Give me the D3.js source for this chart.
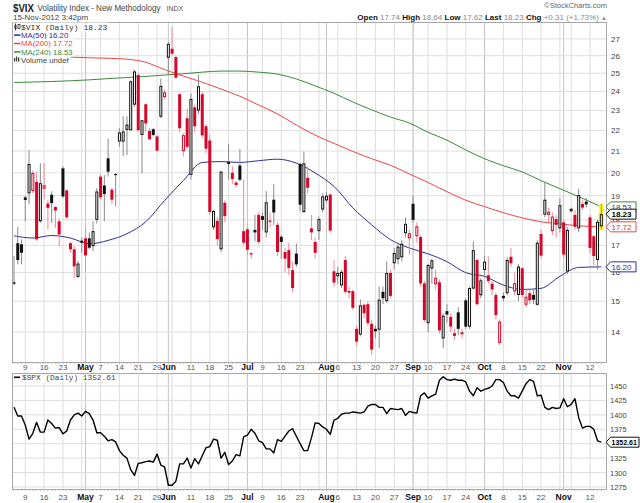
<!DOCTYPE html>
<html><head><meta charset="utf-8">
<script src="https://cdn.jsdelivr.net/npm/d3@7"></script>
<style>body{margin:0;background:#fff}svg{display:block}</style>
</head><body><svg id="c" width="640" height="503"></svg>
<script>
// ---------- DATA ----------
const startDate = "2012-04-03", endDate = "2012-11-15";
const holidays = ["2012-04-06","2012-05-28","2012-07-04","2012-09-03","2012-10-29","2012-10-30"];

const vixOpen = [15.62,17.08,17.04,18.93,19.1,19.2,19.6,17.94,19.3,18.67,
19.04,18.53,17.94,20.2,19.23,17.08,16.85,15.84,17.18,17.27,
17.27,16.97,18.0,19.83,19.44,20.66,19.26,19.95,21.45,21.45,
22.02,22.0,23.3,24.9,21.77,23.32,21.97,22.05,21.7,22.68,
23.7,25.88,26.41,25.92,23.85,21.0,22.6,19.91,23.16,22.99,
23.85,22.2,21.5,17.7,17.96,16.85,18.7,20.5,20.0,19.57,
20.33,17.55,17.62,16.7,17.6,18.2,18.15,17.5,17.97,18.83,
17.8,17.33,16.75,16.82,16.08,16.69,20.4,18.32,19.78,17.66,
17.13,17.55,18.42,18.8,19.05,16.04,15.86,15.54,16.45,15.35,
15.34,14.1,13.92,14.88,14.9,14.26,14.1,14.07,15.32,15.0,
15.98,16.33,16.48,16.55,17.47,17.27,18.66,17.35,17.32,15.61,
14.28,16.14,15.58,15.65,13.8,14.67,14.48,13.96,14.63,13.93,
15.03,14.17,15.43,16.45,15.2,16.09,15.9,15.6,15.21,13.66,
15.18,15.27,16.57,15.33,15.21,16.15,14.88,15.27,15.21,14.88,
17.44,18.21,18.2,17.55,18.03,17.66,17.9,16.03,18.35,18.2,
17.66,18.65,18.75,18.1,17.35,16.45,17.74];
const vixHigh = [16.6,17.72,17.23,19.0,21.05,20.1,20.04,20.43,20.45,18.83,
19.19,18.55,18.06,20.3,19.26,17.13,16.97,16.41,17.3,17.68,
17.49,17.94,19.33,19.93,19.9,21.6,19.33,19.97,22.1,22.7,
22.7,24.6,25.2,25.0,22.5,23.37,22.1,22.1,21.77,24.7,
24.1,26.8,27.72,26.0,23.9,21.85,23.1,23.9,23.3,24.9,
24.0,22.3,21.77,18.4,18.1,20.1,18.8,21.35,20.3,19.62,
21.1,19.7,17.7,16.75,18.2,18.3,18.3,19.2,18.3,19.5,
17.9,17.4,16.9,17.1,16.4,17.07,20.45,20.97,20.3,18.2,
17.3,18.13,19.1,19.15,19.1,16.45,16.2,16.1,16.6,15.5,
15.4,14.2,15.06,14.92,15.0,14.4,14.2,15.5,15.5,16.4,
16.1,16.9,17.1,17.2,18.1,17.6,19.0,17.9,17.4,15.7,
16.3,16.5,16.1,15.75,14.6,14.9,14.6,14.1,14.8,14.1,
15.1,15.5,17.15,16.5,15.8,16.6,16.58,15.7,15.3,14.4,
15.3,16.55,16.9,16.0,16.3,16.2,15.4,15.4,15.4,17.2,
17.6,19.6,18.5,18.3,18.2,18.9,18.0,17.7,18.5,18.4,
19.3,18.8,18.9,18.2,17.4,18.0,18.64];
const vixLow = [15.55,16.29,16.29,17.94,18.63,19.1,17.17,17.88,18.85,17.62,
17.88,17.68,16.97,18.9,18.06,16.72,15.8,15.8,16.72,16.04,
16.85,16.78,17.85,18.83,17.94,19.83,18.63,18.55,21.2,20.77,
20.81,22.0,23.2,21.94,19.97,21.94,21.53,21.7,20.97,22.6,
23.6,24.9,26.0,24.7,21.9,20.74,21.1,19.7,21.9,22.8,
21.6,20.9,18.2,17.6,17.0,16.75,17.9,19.7,19.5,19.35,
19.62,17.0,16.65,16.5,17.15,17.05,17.6,17.3,17.7,17.8,
16.6,16.5,16.0,15.9,15.3,16.2,18.35,18.28,19.1,17.2,
16.5,17.2,18.3,18.7,17.5,15.5,15.6,15.45,15.25,15.1,
14.7,13.55,13.86,14.45,14.2,13.3,13.8,13.5,14.9,14.95,
15.1,16.1,16.3,16.4,17.3,16.65,17.9,17.1,15.5,14.3,
14.0,15.6,15.4,13.95,13.5,14.3,14.0,13.75,13.9,13.8,
14.1,14.1,15.4,14.85,15.1,15.9,15.6,15.2,14.4,13.6,
15.0,15.2,16.2,15.2,15.0,15.1,14.8,14.9,14.9,14.85,
16.5,18.1,17.9,17.4,17.3,17.5,16.5,15.95,18.3,17.6,
17.5,18.4,18.5,16.7,16.25,16.1,17.62];
const vixClose = [15.65,16.45,16.72,18.82,20.4,20.0,17.23,19.54,19.45,18.49,
18.69,18.38,17.42,18.97,18.1,16.85,16.22,16.32,17.1,16.62,
16.91,17.55,19.18,18.93,19.07,20.05,18.83,19.9,21.89,21.94,
22.28,24.55,25.1,22.0,22.5,22.34,21.56,21.77,21.02,24.3,
23.95,26.7,26.12,24.75,22.1,21.76,21.2,23.6,22.2,24.28,
21.75,21.11,18.32,18.36,17.24,20.05,18.15,20.4,19.72,19.46,
19.69,17.1,16.83,16.66,17.5,17.13,18.0,18.72,17.93,18.3,
16.75,17.13,16.5,16.16,15.45,16.29,18.62,20.43,19.34,17.5,
16.72,18.03,18.97,19.0,17.57,15.64,15.98,16.02,15.32,15.29,
14.78,13.7,14.86,14.6,14.28,13.46,14.02,15.05,15.1,15.98,
15.18,16.71,16.95,17.06,17.84,17.47,18.0,17.74,15.61,14.38,
16.27,16.44,15.81,14.05,14.52,14.56,14.17,13.88,14.1,13.99,
14.17,15.45,16.82,14.9,15.72,16.39,15.69,15.4,14.54,14.33,
15.1,16.45,16.33,15.62,16.21,15.21,15.15,15.03,15.05,17.1,
16.61,18.83,18.33,18.13,17.8,18.6,16.65,17.6,18.45,17.72,
19.03,18.5,18.63,16.9,16.6,17.92,18.23];

const spxClose = [1413,1398,1398,1382,1358,1368,1387,1370,1370,1391,
1385,1377,1378,1367,1372,1391,1400,1403,1398,1406,
1402,1391,1369,1369,1363,1355,1357,1353,1338,1330,
1325,1305,1295,1316,1317,1319,1320,1318,1332,1313,
1310,1278,1278,1285,1315,1315,1325,1308,1324,1315,
1329,1343,1345,1358,1356,1325,1335,1314,1320,1331,
1329,1362,1365,1375,1368,1355,1352,1341,1341,1334,
1357,1354,1363,1372,1376,1363,1350,1338,1338,1360,
1386,1385,1379,1375,1366,1391,1394,1401,1403,1403,
1405,1404,1403,1405,1415,1418,1418,1413,1413,1402,
1411,1410,1409,1411,1399,1406,1404,1403,1433,1438,
1429,1433,1436,1460,1466,1461,1460,1462,1460,1460,
1457,1441,1433,1447,1441,1444,1446,1450,1461,1461,
1456,1441,1433,1433,1429,1441,1454,1461,1458,1433,
1434,1413,1409,1413,1411,1412,1428,1414,1418,1428,
1395,1377,1380,1380,1375,1355,1352.61];

const maIdx = [0,5,10,15,20,25,30,35,40,45,50,55,60,65,70,75,80,85,90,95,100,105,110,115,120,125,130,135,140,145,150,156];
const ma50  = [17.37,17.28,17.38,17.28,17.06,17.19,17.45,17.92,18.8,19.66,20.47,20.51,20.47,20.55,20.62,20.44,19.99,19.4,18.49,17.8,17.22,16.9,16.68,16.39,15.99,15.86,15.55,15.4,15.44,15.86,16.18,16.2];
const ma200 = [25.94,25.94,25.93,25.92,25.88,25.85,25.8,25.62,25.2,24.84,24.5,24.13,23.74,23.28,22.82,22.26,21.76,21.36,20.98,20.64,20.34,19.95,19.57,19.17,18.81,18.54,18.29,18.08,17.92,17.84,17.76,17.72];
const ma240 = [24.49,24.51,24.54,24.58,24.63,24.7,24.76,24.82,24.9,24.97,25.06,25.12,25.12,25.06,24.95,24.68,24.3,23.9,23.44,23.03,22.66,22.36,21.9,21.52,21.05,20.64,20.32,20.04,19.65,19.3,18.96,18.53];

const vixTicks = [14,15,16,17,18,19,20,21,22,23,24,25,26,27];
const spxTicks = [1275,1300,1325,1350,1375,1400,1425,1450];
const monthNames = ["Jan","Feb","Mar","Apr","May","Jun","Jul","Aug","Sep","Oct","Nov","Dec"];

// ---------- DATES ----------
const dates = [];
{
  const d = new Date(startDate + "T00:00:00Z"), end = new Date(endDate + "T00:00:00Z");
  while (d <= end) {
    const wd = d.getUTCDay(), s = d.toISOString().slice(0,10);
    if (wd !== 0 && wd !== 6 && !holidays.includes(s)) dates.push(new Date(d));
    d.setUTCDate(d.getUTCDate() + 1);
  }
}
const weekStarts = [], monthStarts = [];
for (let i = 1; i < dates.length; i++) {
  if (dates[i].getUTCMonth() !== dates[i-1].getUTCMonth()) monthStarts.push(i);
  if (dates[i].getUTCDay() <= dates[i-1].getUTCDay()) weekStarts.push(i);
}
const tickLabels = [];
monthStarts.forEach(i => tickLabels.push({i, t: monthNames[dates[i].getUTCMonth()], bold: true}));
weekStarts.forEach(i => {
  if (monthStarts.some(m => Math.abs(m - i) <= 2)) return;
  tickLabels.push({i, t: String(dates[i].getUTCDate()), bold: false});
});

// ---------- LAYOUT ----------
const svg = d3.select("#c");
const L = 12, R = 607, mT = 22, mB = 362, lT = 373, lB = 489;
const x = d3.scaleLinear().domain([0, vixClose.length - 1]).range([14, 601.3]);
const yV = d3.scaleLog().domain([13.09, 28.04]).range([mB, mT]);
const yS = d3.scaleLinear().domain([1271.5, 1472.5]).range([lB, lT]);
const FONT = "'Liberation Sans', Arial, sans-serif";
const MONO = "'Liberation Mono', 'DejaVu Sans Mono', monospace";
const RED = "#d4062a", REDW = "#ee8a96", BLK = "#111", BLKW = "#8a8a8a";
const last = vixClose.length - 1;

svg.append("rect").attr("width",640).attr("height",503).attr("fill","#fff");

// grids
function grids(top, bot) {
  weekStarts.forEach(i => svg.append("line").attr("x1",x(i)).attr("x2",x(i)).attr("y1",top).attr("y2",bot).attr("stroke","#dedede"));
  monthStarts.forEach(i => svg.append("line").attr("x1",x(i)).attr("x2",x(i)).attr("y1",top).attr("y2",bot).attr("stroke","#c4c4c4"));
}
grids(mT, mB);
grids(lT, lB);
vixTicks.forEach(v => svg.append("line").attr("x1",L).attr("x2",R).attr("y1",yV(v)).attr("y2",yV(v)).attr("stroke","#dedede"));
spxTicks.forEach(v => svg.append("line").attr("x1",L).attr("x2",R).attr("y1",yS(v)).attr("y2",yS(v)).attr("stroke","#dedede"));

// MA lines
const maLine = (arr) => d3.line().x((d,k) => x(maIdx[k])).y(d => yV(d)).curve(d3.curveMonotoneX)(arr);
svg.append("path").attr("d", maLine(ma240)).attr("fill","none").attr("stroke","#3a8a3a").attr("stroke-width",1);
svg.append("path").attr("d", maLine(ma200)).attr("fill","none").attr("stroke","#f04545").attr("stroke-width",1);
svg.append("path").attr("d", maLine(ma50)).attr("fill","none").attr("stroke","#2e2e9e").attr("stroke-width",1);

// highlight last bar
svg.append("rect").attr("x", x(last)-2.6).attr("width",5.2).attr("y", yV(vixHigh[last])-1).attr("height", yV(vixLow[last]) - yV(vixHigh[last]) + 2).attr("fill","#ffff2a");

// candles
const cg = svg.append("g");
vixClose.forEach((c, i) => {
  const o = vixOpen[i], h = vixHigh[i], l = vixLow[i];
  const up = i === 0 ? true : c >= vixClose[i-1];
  const col = up ? BLK : RED, wcol = up ? BLKW : REDW;
  const cx = x(i);
  cg.append("line").attr("x1",cx).attr("x2",cx).attr("y1",yV(h)).attr("y2",yV(l)).attr("stroke",wcol).attr("stroke-width",1);
  const top = yV(Math.max(o,c)), bot = yV(Math.min(o,c));
  if (c > o) {
    cg.append("rect").attr("x",cx-1).attr("width",2).attr("y",top+0.5).attr("height",Math.max(bot-top-1,0.5))
      .attr("fill","#fff").attr("stroke",col).attr("stroke-width",1);
  } else {
    cg.append("rect").attr("x",cx-1.5).attr("width",3).attr("y",top).attr("height",Math.max(bot-top,1.2)).attr("fill",col);
  }
});

// SPX line
svg.append("path").datum(spxClose)
  .attr("d", d3.line().x((d,i) => x(i)).y(d => yS(d)))
  .attr("fill","none").attr("stroke","#000").attr("stroke-width",1.4).attr("stroke-linejoin","round");

// panel borders and day ticks
[[mT,mB],[lT,lB]].forEach(([t,b]) => {
  svg.append("rect").attr("x",L+0.5).attr("y",t+0.5).attr("width",R-L-1).attr("height",b-t).attr("fill","none").attr("stroke","#a8a8a8");
  vixClose.forEach((c,i) => svg.append("line").attr("x1",x(i)).attr("x2",x(i)).attr("y1",b).attr("y2",b+2).attr("stroke","#b0b0b0").attr("stroke-width",0.8));
});

// x-axis labels
[370, 500].forEach(by => {
  tickLabels.forEach(tl => svg.append("text").attr("x", x(tl.i)).attr("y", by).attr("text-anchor","middle")
    .attr("font-family", FONT).attr("font-size", tl.bold ? 8.5 : 8).attr("font-weight", tl.bold ? "bold" : "normal")
    .attr("fill", tl.bold ? "#111" : "#555").text(tl.t));
});

// y labels (the SPX label hidden under the last-value tag is skipped, as in the source)
vixTicks.forEach(v => {
  svg.append("text").attr("x",611).attr("y",yV(v)+3).attr("font-family",FONT).attr("font-size",8).attr("fill","#444").text(v);
});
spxTicks.forEach(v => {
  const yy = yS(v);
  if (Math.abs(yS(spxClose[last]) - yy) < 7) return;
  svg.append("text").attr("x",610).attr("y",yy+3).attr("font-family",FONT).attr("font-size",7.5).attr("fill","#444").text(v);
});

// value tags
function valBox(yc, txt, col, tcol, bold, x1, fs) {
  const x0 = 606, h = 5;
  svg.append("path").attr("d", `M${x0},${yc} L${x0+4.5},${yc-h} L${x1},${yc-h} L${x1},${yc+h} L${x0+4.5},${yc+h} Z`)
    .attr("fill","#fff").attr("stroke",col).attr("stroke-width",1);
  svg.append("text").attr("x",x0+5.5).attr("y",yc+3).attr("font-family",FONT).attr("font-size",fs || 8)
    .attr("font-weight", bold ? "bold" : "normal").attr("fill",tcol).text(txt);
}
valBox(yV(ma240[ma240.length-1]), ma240[ma240.length-1].toFixed(2), "#3a8a3a", "#444", false, 636);
valBox(yV(ma200[ma200.length-1]), ma200[ma200.length-1].toFixed(2), "#f04545", "#e03030", false, 636);
valBox(yV(ma50[ma50.length-1]), ma50[ma50.length-1].toFixed(2), "#2e2e9e", "#2e2e9e", false, 636);
valBox(yV(vixClose[last]), vixClose[last].toFixed(2), "#111", "#000", true, 636);
valBox(yS(spxClose[last]), spxClose[last].toFixed(2), "#111", "#000", true, 639, 7);

// legends
function legendRow(xt, yb, parts) {
  const g = svg.append("g");
  const bg = g.append("rect").attr("fill","#fff");
  const t = g.append("text").attr("x", xt).attr("y", yb);
  parts.forEach(p => t.append("tspan").attr("font-family", p.f || FONT).attr("font-size", p.s || 7.5).attr("fill", p.c || "#333").text(p.t));
  const bb = t.node().getBBox();
  bg.attr("x", 13).attr("y", bb.y).attr("width", bb.x + bb.width - 13 + 1).attr("height", bb.height);
  return g;
}
const lg1 = legendRow(21, 29.5, [{t:"$VIX (Daily) " + vixClose[last].toFixed(2), f:MONO, s:8, c:"#333"}]);
lg1.append("line").attr("x1",15.5).attr("x2",15.5).attr("y1",23.5).attr("y2",30.5).attr("stroke","#333");
lg1.append("rect").attr("x",14.5).attr("y",25).attr("width",2).attr("height",4).attr("fill","#333");
lg1.append("rect").attr("x",18).attr("y",24.5).attr("width",2).attr("height",4).attr("fill","#fff").attr("stroke","#333").attr("stroke-width",0.8);
const maRows = [["MA(50) " + ma50[ma50.length-1].toFixed(2), "#2e2e9e", 37.8],
                ["MA(200) " + ma200[ma200.length-1].toFixed(2), "#f04545", 46.2],
                ["MA(240) " + ma240[ma240.length-1].toFixed(2), "#3a8a3a", 54.6]];
maRows.forEach(([t, c, yb]) => {
  const g = legendRow(21, yb, [{t, c, s:7.8}]);
  g.append("line").attr("x1",14).attr("x2",20.5).attr("y1",yb-2.7).attr("y2",yb-2.7).attr("stroke",c).attr("stroke-width",1.5);
});
const lg5 = legendRow(21, 62.8, [{t:"Volume undef", c:"#444", s:7.8}]);
[[14,58,3.5],[16,56.5,5],[18,57.5,4]].forEach(([bx,by,bh]) => lg5.append("rect").attr("x",bx).attr("y",by).attr("width",1.3).attr("height",bh).attr("fill","#444"));
const lg6 = legendRow(22, 380, [{t:"$SPX (Daily) " + spxClose[last].toFixed(2), f:MONO, s:7.8, c:"#444"}]);
lg6.append("line").attr("x1",14).attr("x2",20).attr("y1",377.3).attr("y2",377.3).attr("stroke","#000").attr("stroke-width",1.6);

// header
svg.append("text").attr("x",13).attr("y",11.5).attr("font-family",FONT).attr("font-size",11.5).attr("font-weight","bold").attr("fill","#222")
  .attr("textLength",21).attr("lengthAdjust","spacingAndGlyphs").text("$VIX");
svg.append("text").attr("x",37.5).attr("y",11).attr("font-family",FONT).attr("font-size",8.5).attr("fill","#444")
  .attr("textLength",123).attr("lengthAdjust","spacingAndGlyphs").text("Volatility Index - New Methodology");
svg.append("text").attr("x",166.5).attr("y",11).attr("font-family",FONT).attr("font-size",7).attr("fill","#555").text("INDX");
svg.append("text").attr("x",13).attr("y",20).attr("font-family",FONT).attr("font-size",8).attr("fill","#444").text("15-Nov-2012 3:42pm");
svg.append("text").attr("x",607).attr("y",8).attr("text-anchor","end").attr("font-family",FONT).attr("font-size",7.5).attr("fill","#666").text("©StockCharts.com");
const hdr = svg.append("text").attr("x",607).attr("y",19.5).attr("text-anchor","end").attr("font-family",FONT).attr("font-size",8);
[["Open ",true],["17.74 ",false],["High ",true],["18.64 ",false],["Low ",true],["17.62 ",false],["Last ",true],["18.23 ",false],["Chg ",true],["+0.31 (+1.73%) ",false],["▲",false]]
  .forEach(([t,b]) => hdr.append("tspan").attr("font-weight", b ? "bold" : "normal").attr("fill", b ? "#111" : "#888").attr("font-size", t === "▲" ? 6 : 8).text(t));
</script>
</body></html>
